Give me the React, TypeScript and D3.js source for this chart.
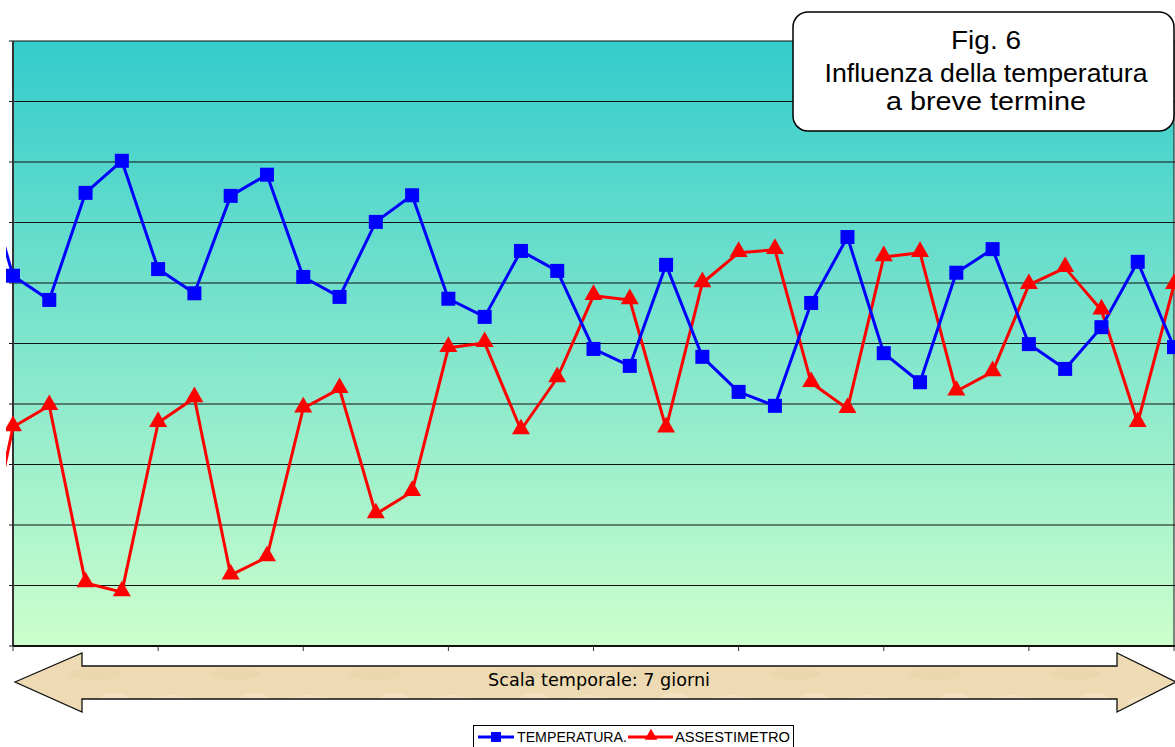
import React from "react";
import * as d3 from "d3";

// Time steps (index -1 is the point just before the visible window)
const steps = d3.range(-1, 33);
const temperatura = [
  8.2, 6.12, 5.72, 7.49, 8.02, 6.23, 5.83, 7.44, 7.79, 6.1, 5.77, 7.01, 7.45, 5.74, 5.44, 6.53, 6.2,
  4.91, 4.63, 6.3, 4.78, 4.2, 3.97, 5.67, 6.76, 4.84, 4.36, 6.17, 6.56, 4.99, 4.58, 5.27, 6.35, 4.94,
];
const assestimetro = [
  0.76, 3.62, 3.97, 1.04, 0.89, 3.69, 4.1, 1.17, 1.47, 3.93, 4.25, 2.18, 2.55, 4.93, 5.01, 3.57, 4.43,
  5.79, 5.72, 3.6, 6.0, 6.5, 6.55, 4.35, 3.92, 6.43, 6.5, 4.21, 4.53, 5.97, 6.25, 5.55, 3.69, 5.97,
];
const yTicks = d3.range(0, 11);
const xTicks = d3.range(0, 33, 4);
const titleLines = ["Fig. 6", "Influenza della temperatura", "a breve termine"];
const arrowLabel = "Scala temporale: 7 giorni";
const legendItems = ["TEMPERATURA.", "ASSESTIMETRO"];

export default function App() {
  const W = 1175;
  const H = 747;
  const left = 13;
  const right = 1174;
  const top = 41;
  const bottom = 646;

  const x = d3.scaleLinear().domain([0, 32]).range([left, right]);
  const y = d3.scaleLinear().domain([0, 10]).range([bottom, top]);

  const line = d3
    .line<number>()
    .x((_, i) => x(steps[i]))
    .y((d) => y(d));

  const tri = d3.symbol().type(d3.symbolTriangle).size(140)();

  // arrow geometry
  const ay = 682;
  const arrow = [
    [15, ay],
    [82, 653],
    [82, 666],
    [1117, 666],
    [1117, 653],
    [1176, ay],
    [1117, 712],
    [1117, 699],
    [82, 699],
    [82, 712],
  ];

  const titleY = [49, 82, 110];
  const titleLen = [70, 323, 200];

  return (
    <svg
      width={W}
      height={H}
      style={{ position: "absolute", left: 0, top: 0, background: "#fff" }}
      fontFamily="'Liberation Sans', Arial, sans-serif"
    >
      <defs>
        <linearGradient id="bg" x1="0" y1="0" x2="0" y2="1">
          <stop offset="0%" stopColor="#33CCCC" />
          <stop offset="100%" stopColor="#CCFFCC" />
        </linearGradient>
        <clipPath id="clip">
          <rect x={6} y={0} width={W} height={H} />
        </clipPath>
        <pattern id="tex" width="140" height="46" patternUnits="userSpaceOnUse">
          <rect width="140" height="46" fill="#EEDBB3" />
          <ellipse cx="30" cy="12" rx="22" ry="7" fill="#F3E5C6" opacity="0.6" />
          <ellipse cx="95" cy="30" rx="26" ry="6" fill="#E8D2A6" opacity="0.45" />
          <ellipse cx="115" cy="8" rx="14" ry="5" fill="#F5E9CF" opacity="0.5" />
        </pattern>
      </defs>

      {/* plot background */}
      <rect x={left} y={top} width={right - left} height={bottom - top} fill="url(#bg)" />

      {/* gridlines */}
      {yTicks.map((t) => (
        <line key={t} x1={9} x2={W} y1={y(t)} y2={y(t)} stroke="#111" strokeWidth={1.2} />
      ))}

      {/* axes */}
      <line x1={left} x2={left} y1={top} y2={bottom} stroke="#333" strokeWidth={2} />
      <line x1={right} x2={right} y1={top} y2={bottom} stroke="#111" strokeWidth={1} />
      <line x1={left} x2={W} y1={bottom} y2={bottom} stroke="#111" strokeWidth={2} />
      {xTicks.map((t) => (
        <line key={t} x1={x(t)} x2={x(t)} y1={bottom} y2={bottom + 5} stroke="#333" strokeWidth={1} />
      ))}

      {/* series */}
      <g clipPath="url(#clip)">
        <path d={line(assestimetro) || ""} fill="none" stroke="#FF0000" strokeWidth={3} strokeLinejoin="round" />
        <path d={line(temperatura) || ""} fill="none" stroke="#0000FF" strokeWidth={3} strokeLinejoin="round" />
        {assestimetro.map((v, i) =>
          steps[i] < 0 ? null : (
            <path key={"r" + i} d={tri} transform={`translate(${x(steps[i])},${y(v) - 1})`} fill="#FF0000" />
          )
        )}
        {temperatura.map((v, i) =>
          steps[i] < 0 ? null : (
            <rect key={"b" + i} x={x(steps[i]) - 7} y={y(v) - 7} width={14} height={14} fill="#0000FF" />
          )
        )}
      </g>

      {/* title box */}
      <rect x={793} y={12} width={381} height={119} rx={15} ry={15} fill="#fff" stroke="#000" strokeWidth={1.5} />
      {titleLines.map((t, i) => (
        <text
          key={t}
          x={986 - titleLen[i] / 2}
          y={titleY[i]}
          fontSize={25}
          textLength={titleLen[i]}
          lengthAdjust="spacingAndGlyphs"
          fill="#000"
        >
          {t}
        </text>
      ))}

      {/* arrow */}
      <polygon points={arrow.map((p) => p.join(",")).join(" ")} fill="url(#tex)" stroke="#111" strokeWidth={1.3} />
      <text
        x={488}
        y={686}
        fontSize={17}
        textLength={222}
        lengthAdjust="spacingAndGlyphs"
        fontFamily="'Comic Sans MS', 'DejaVu Sans', sans-serif"
        fill="#000"
      >
        {arrowLabel}
      </text>

      {/* legend */}
      <rect x={473.5} y={725.5} width={320} height={30} fill="#fff" stroke="#000" strokeWidth={1} />
      <line x1={478} x2={514} y1={737} y2={737} stroke="#0000FF" strokeWidth={3} />
      <rect x={491} y={732} width={10} height={10} fill="#0000FF" />
      <text x={517} y={742} fontSize={14} textLength={110} lengthAdjust="spacingAndGlyphs" fill="#000">
        {legendItems[0]}
      </text>
      <line x1={628} x2={673} y1={737} y2={737} stroke="#FF0000" strokeWidth={3} />
      <path d={d3.symbol().type(d3.symbolTriangle).size(70)() || ""} transform="translate(651,736)" fill="#FF0000" />
      <text x={675} y={742} fontSize={14} textLength={115} lengthAdjust="spacingAndGlyphs" fill="#000">
        {legendItems[1]}
      </text>
    </svg>
  );
}
